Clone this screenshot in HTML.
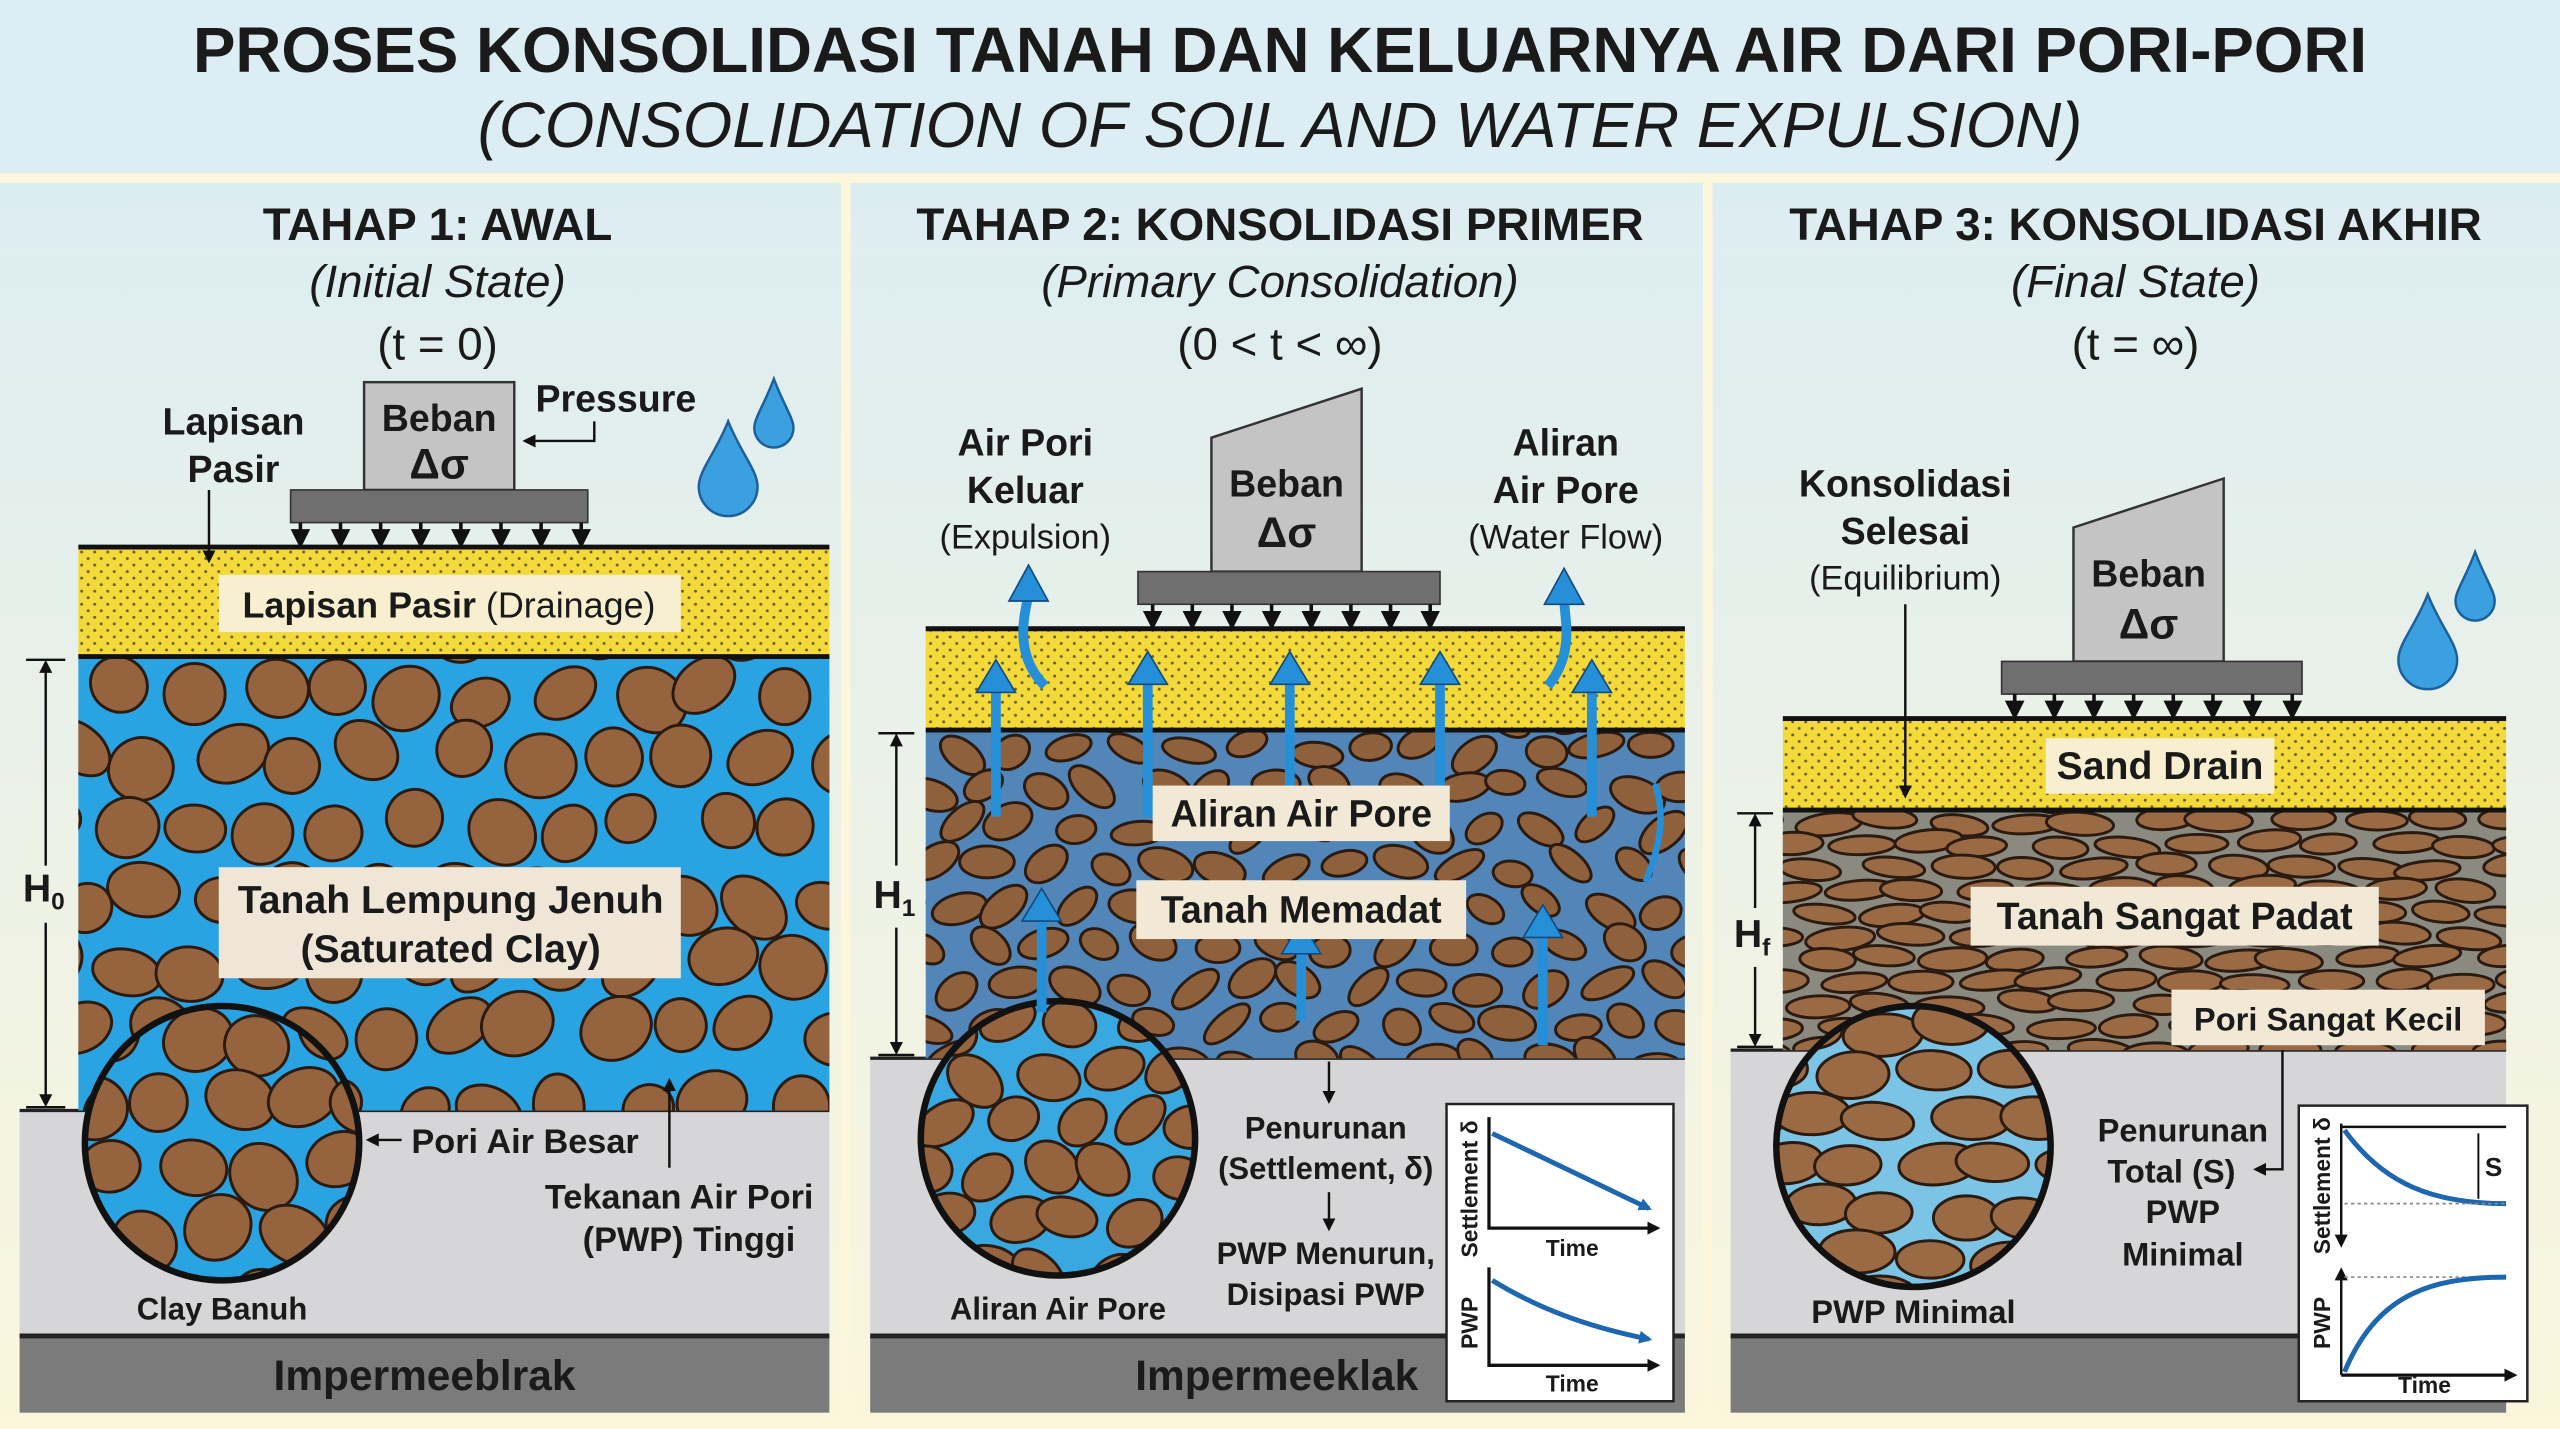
<!DOCTYPE html>
<html><head><meta charset="utf-8"><style>
html,body{margin:0;padding:0;background:#fff}
svg{display:block}
text{font-family:"Liberation Sans",sans-serif;font-weight:bold;fill:#1a1a1a}
.n{font-weight:normal}
</style></head><body>
<svg id="s" width="2560" height="1429" viewBox="0 0 1568 875" preserveAspectRatio="none" xmlns="http://www.w3.org/2000/svg">
<defs>
<linearGradient id="bg" x1="0" y1="0" x2="0" y2="1"><stop offset="0" stop-color="#dcedf2"/><stop offset="1" stop-color="#fbf6dc"/></linearGradient>
<pattern id="dots" width="8" height="8" patternUnits="userSpaceOnUse"><rect width="8" height="8" fill="#f3d93a"/><circle cx="2" cy="2" r="0.9" fill="#6a5a20"/><circle cx="6" cy="6" r="0.9" fill="#6a5a20"/></pattern>
<clipPath id="c1"><rect x="48" y="402" width="460" height="278"/></clipPath>
<clipPath id="c2"><rect x="567" y="447" width="465" height="201"/></clipPath>
<clipPath id="c3"><rect x="1092" y="496" width="443" height="147"/></clipPath>
<clipPath id="k1"><circle cx="136" cy="700" r="84"/></clipPath>
<clipPath id="k2"><circle cx="648" cy="697" r="84"/></clipPath>
<clipPath id="k3"><ellipse cx="1172" cy="702" rx="84" ry="86"/></clipPath>
<marker id="ah" markerWidth="8" markerHeight="8" refX="6" refY="4" orient="auto" markerUnits="userSpaceOnUse"><path d="M0,0 L8,4 L0,8z" fill="#111"/></marker>
<marker id="ahb" markerWidth="12" markerHeight="12" refX="10" refY="6" orient="auto" markerUnits="userSpaceOnUse"><path d="M0,0 L12,6 L0,12z" fill="#111"/></marker>
<marker id="ab" markerWidth="8" markerHeight="8" refX="6" refY="4" orient="auto" markerUnits="userSpaceOnUse"><path d="M0,0 L8,4 L0,8z" fill="#1d66b0"/></marker>
</defs>
<rect width="1568" height="875" fill="#fbf6dc"/>
<rect width="1568" height="106" fill="#dcedf3"/>
<rect x="0" y="112" width="515" height="763" fill="url(#bg)"/>
<rect x="521" y="112" width="522" height="763" fill="url(#bg)"/>
<rect x="1049" y="112" width="519" height="763" fill="url(#bg)"/>
<text x="784" y="44" font-size="39" text-anchor="middle">PROSES KONSOLIDASI TANAH DAN KELUARNYA AIR DARI PORI-PORI</text>
<text x="784" y="90" font-size="39" text-anchor="middle" class="n" font-style="italic">(CONSOLIDATION OF SOIL AND WATER EXPULSION)</text>

<g font-size="28" text-anchor="middle">
<text x="268" y="147">TAHAP 1: AWAL</text>
<text x="784" y="147">TAHAP 2: KONSOLIDASI PRIMER</text>
<text x="1308" y="147">TAHAP 3: KONSOLIDASI AKHIR</text>
</g>
<g font-size="28" text-anchor="middle" font-style="italic">
<text x="268" y="182" class="n">(Initial State)</text>
<text x="784" y="182" class="n">(Primary Consolidation)</text>
<text x="1308" y="182" class="n">(Final State)</text>
</g>
<g font-size="28" text-anchor="middle">
<text x="268" y="220" class="n">(t = 0)</text>
<text x="784" y="220" class="n">(0 &lt; t &lt; ∞)</text>
<text x="1308" y="220" class="n">(t = ∞)</text>
</g>

<!-- PANEL 1 -->
<rect x="12" y="680" width="496" height="138" fill="#d6d6d8"/>
<rect x="12" y="818" width="496" height="47" fill="#7b7b7b"/>
<line x1="12" y1="818" x2="508" y2="818" stroke="#222" stroke-width="3"/>
<line x1="12" y1="680" x2="508" y2="680" stroke="#222" stroke-width="2"/>
<rect x="48" y="335" width="460" height="67" fill="url(#dots)"/>
<line x1="48" y1="335" x2="508" y2="335" stroke="#111" stroke-width="3"/>
<rect x="48" y="402" width="460" height="278" fill="#2aa3e3"/>
<g id="g1" clip-path="url(#c1)"></g>
<line x1="48" y1="402" x2="508" y2="402" stroke="#111" stroke-width="3"/>
<circle cx="136" cy="700" r="84" fill="#2aa3e3"/>
<g id="gk1" clip-path="url(#k1)"></g>
<circle cx="136" cy="700" r="84" fill="none" stroke="#111" stroke-width="4"/>
<rect x="134" y="352" width="283" height="35" fill="#f8efd0"/>
<text x="275" y="378" font-size="22" text-anchor="middle">Lapisan Pasir <tspan class="n">(Drainage)</tspan></text>
<rect x="134" y="531" width="283" height="68" fill="#efe6d8"/>
<text x="276" y="559" font-size="24" text-anchor="middle">Tanah Lempung Jenuh</text>
<text x="276" y="589" font-size="24" text-anchor="middle">(Saturated Clay)</text>
<rect x="223" y="234" width="92" height="66" fill="#c4c4c4" stroke="#333" stroke-width="1.5"/>
<text x="269" y="264" font-size="23" text-anchor="middle">Beban</text>
<text x="269" y="293" font-size="26" text-anchor="middle">Δσ</text>
<rect x="178" y="300" width="182" height="20" fill="#6f6f6f" stroke="#333"/>
<g id="ar1"></g>
<text x="143" y="266" font-size="23" text-anchor="middle">Lapisan</text>
<text x="143" y="295" font-size="23" text-anchor="middle">Pasir</text>
<line x1="128" y1="300" x2="128" y2="343" stroke="#111" stroke-width="1.5" marker-end="url(#ah)"/>
<text x="328" y="252" font-size="23">Pressure</text>
<polyline points="364,258 364,270 322,270" fill="none" stroke="#111" stroke-width="1.5" marker-end="url(#ah)"/>
<path d="M474,232 C468,248 462,256 462,262 A12,12 0 0 0 486,262 C486,256 480,248 474,232z" fill="#3aa0e0" stroke="#1d5f9a" stroke-width="1.5"/>
<path d="M446,258 C438,278 428,288 428,298 A18,18 0 0 0 464,298 C464,288 454,278 446,258z" fill="#3aa0e0" stroke="#1d5f9a" stroke-width="1.5"/>
<line x1="16" y1="404" x2="40" y2="404" stroke="#111" stroke-width="1.5"/>
<line x1="16" y1="678" x2="40" y2="678" stroke="#111" stroke-width="1.5"/>
<line x1="28" y1="530" x2="28" y2="406" stroke="#111" stroke-width="1.5" marker-end="url(#ah)"/>
<line x1="28" y1="565" x2="28" y2="676" stroke="#111" stroke-width="1.5" marker-end="url(#ah)"/>
<text x="14" y="552" font-size="24">H<tspan font-size="15" dy="5">0</tspan></text>
<line x1="246" y1="698" x2="226" y2="698" stroke="#111" stroke-width="1.5" marker-end="url(#ah)"/>
<text x="252" y="706" font-size="21">Pori Air Besar</text>
<line x1="410" y1="715" x2="410" y2="662" stroke="#111" stroke-width="1.5" marker-end="url(#ah)"/>
<text x="416" y="740" font-size="21" text-anchor="middle">Tekanan Air Pori</text>
<text x="422" y="766" font-size="21" text-anchor="middle">(PWP) Tinggi</text>
<text x="136" y="808" font-size="19" text-anchor="middle">Clay Banuh</text>
<text x="260" y="851" font-size="26" text-anchor="middle">Impermeeblrak</text>

<!-- PANEL 2 -->
<rect x="533" y="648" width="499" height="170" fill="#d6d6d8"/>
<rect x="533" y="818" width="499" height="47" fill="#7b7b7b"/>
<line x1="533" y1="818" x2="1032" y2="818" stroke="#222" stroke-width="3"/>
<line x1="533" y1="648" x2="1032" y2="648" stroke="#222" stroke-width="2"/>
<rect x="567" y="385" width="465" height="62" fill="url(#dots)"/>
<line x1="567" y1="385" x2="1032" y2="385" stroke="#111" stroke-width="3"/>
<rect x="567" y="447" width="465" height="201" fill="#5286b8"/>
<g id="g2" clip-path="url(#c2)"></g>
<line x1="567" y1="447" x2="1032" y2="447" stroke="#111" stroke-width="3"/>
<circle cx="648" cy="697" r="84" fill="#3aa8e0"/>
<g id="gk2" clip-path="url(#k2)"></g>
<circle cx="648" cy="697" r="84" fill="none" stroke="#111" stroke-width="4"/>
<g id="bl2"></g>
<rect x="706" y="481" width="182" height="34" fill="#f1e8d6"/>
<text x="797" y="506" font-size="23" text-anchor="middle">Aliran Air Pore</text>
<rect x="696" y="539" width="202" height="36" fill="#f1e8d6"/>
<text x="797" y="565" font-size="23" text-anchor="middle">Tanah Memadat</text>
<path d="M742,268 L834,238 L834,350 L742,350z" fill="#c4c4c4" stroke="#333" stroke-width="1.5"/>
<text x="788" y="304" font-size="23" text-anchor="middle">Beban</text>
<text x="788" y="335" font-size="26" text-anchor="middle">Δσ</text>
<rect x="697" y="350" width="185" height="20" fill="#6f6f6f" stroke="#333"/>
<g id="ar2"></g>
<text x="628" y="279" font-size="23" text-anchor="middle">Air Pori</text>
<text x="628" y="308" font-size="23" text-anchor="middle">Keluar</text>
<text x="628" y="336" font-size="21" text-anchor="middle" class="n">(Expulsion)</text>
<text x="959" y="279" font-size="23" text-anchor="middle">Aliran</text>
<text x="959" y="308" font-size="23" text-anchor="middle">Air Pore</text>
<text x="959" y="336" font-size="21" text-anchor="middle" class="n">(Water Flow)</text>
<line x1="538" y1="449" x2="560" y2="449" stroke="#111" stroke-width="1.5"/>
<line x1="538" y1="646" x2="560" y2="646" stroke="#111" stroke-width="1.5"/>
<line x1="549" y1="530" x2="549" y2="451" stroke="#111" stroke-width="1.5" marker-end="url(#ah)"/>
<line x1="549" y1="568" x2="549" y2="644" stroke="#111" stroke-width="1.5" marker-end="url(#ah)"/>
<text x="535" y="556" font-size="24">H<tspan font-size="15" dy="5">1</tspan></text>
<line x1="814" y1="650" x2="814" y2="674" stroke="#111" stroke-width="1.5" marker-end="url(#ah)"/>
<text x="812" y="697" font-size="19" text-anchor="middle">Penurunan</text>
<text x="812" y="722" font-size="19" text-anchor="middle">(Settlement, δ)</text>
<line x1="814" y1="730" x2="814" y2="752" stroke="#111" stroke-width="1.5" marker-end="url(#ah)"/>
<text x="812" y="774" font-size="19" text-anchor="middle">PWP Menurun,</text>
<text x="812" y="799" font-size="19" text-anchor="middle">Disipasi PWP</text>
<text x="648" y="808" font-size="19" text-anchor="middle">Aliran Air Pore</text>
<text x="782" y="851" font-size="26" text-anchor="middle">Impermeeklak</text>
<rect x="886" y="676" width="139" height="182" fill="#fff" stroke="#222" stroke-width="1.5"/>
<polyline points="912,684 912,752 1015,752" fill="none" stroke="#111" stroke-width="2" marker-end="url(#ah)"/>
<path d="M914,694 L1010,740" stroke="#1d66b0" stroke-width="3" fill="none" marker-end="url(#ab)"/>
<text x="963" y="769" font-size="14" text-anchor="middle">Time</text>
<text transform="translate(905,770) rotate(-90)" font-size="14">Settlement δ</text>
<polyline points="912,776 912,836 1015,836" fill="none" stroke="#111" stroke-width="2" marker-end="url(#ah)"/>
<path d="M914,784 C940,800 970,812 1010,820" stroke="#1d66b0" stroke-width="3" fill="none" marker-end="url(#ab)"/>
<text x="963" y="852" font-size="14" text-anchor="middle">Time</text>
<text transform="translate(905,826) rotate(-90)" font-size="14">PWP</text>

<!-- PANEL 3 -->
<rect x="1060" y="643" width="475" height="175" fill="#d6d6d8"/>
<rect x="1060" y="818" width="475" height="47" fill="#7b7b7b"/>
<line x1="1060" y1="818" x2="1535" y2="818" stroke="#222" stroke-width="3"/>
<line x1="1060" y1="643" x2="1535" y2="643" stroke="#222" stroke-width="2"/>
<rect x="1092" y="440" width="443" height="56" fill="url(#dots)"/>
<line x1="1092" y1="440" x2="1535" y2="440" stroke="#111" stroke-width="3"/>
<rect x="1092" y="496" width="443" height="147" fill="#8a8a80"/>
<g id="g3" clip-path="url(#c3)"></g>
<line x1="1092" y1="496" x2="1535" y2="496" stroke="#111" stroke-width="3"/>
<ellipse cx="1172" cy="702" rx="84" ry="86" fill="#7cc4e6"/>
<g id="gk3" clip-path="url(#k3)"></g>
<ellipse cx="1172" cy="702" rx="84" ry="86" fill="none" stroke="#111" stroke-width="4"/>
<rect x="1253" y="452" width="140" height="34" fill="#f8efd0"/>
<text x="1323" y="477" font-size="24" text-anchor="middle">Sand Drain</text>
<rect x="1207" y="543" width="250" height="36" fill="#f1e8d6"/>
<text x="1332" y="569" font-size="23" text-anchor="middle">Tanah Sangat Padat</text>
<rect x="1330" y="606" width="192" height="34" fill="#f1e8d6"/>
<text x="1426" y="631" font-size="20" text-anchor="middle">Pori Sangat Kecil</text>
<path d="M1270,323 L1362,293 L1362,405 L1270,405z" fill="#c4c4c4" stroke="#333" stroke-width="1.5"/>
<text x="1316" y="359" font-size="23" text-anchor="middle">Beban</text>
<text x="1316" y="391" font-size="26" text-anchor="middle">Δσ</text>
<rect x="1226" y="405" width="184" height="20" fill="#6f6f6f" stroke="#333"/>
<g id="ar3"></g>
<text x="1167" y="304" font-size="23" text-anchor="middle">Konsolidasi</text>
<text x="1167" y="333" font-size="23" text-anchor="middle">Selesai</text>
<text x="1167" y="361" font-size="21" text-anchor="middle" class="n">(Equilibrium)</text>
<line x1="1167" y1="370" x2="1167" y2="487" stroke="#111" stroke-width="1.5" marker-end="url(#ah)"/>
<path d="M1516,338 C1510,354 1504,362 1504,368 A12,12 0 0 0 1528,368 C1528,362 1522,354 1516,338z" fill="#3aa0e0" stroke="#1d5f9a" stroke-width="1.5"/>
<path d="M1487,364 C1479,384 1469,394 1469,404 A18,18 0 0 0 1505,404 C1505,394 1495,384 1487,364z" fill="#3aa0e0" stroke="#1d5f9a" stroke-width="1.5"/>
<line x1="1064" y1="498" x2="1086" y2="498" stroke="#111" stroke-width="1.5"/>
<line x1="1064" y1="641" x2="1086" y2="641" stroke="#111" stroke-width="1.5"/>
<line x1="1075" y1="556" x2="1075" y2="500" stroke="#111" stroke-width="1.5" marker-end="url(#ah)"/>
<line x1="1075" y1="592" x2="1075" y2="639" stroke="#111" stroke-width="1.5" marker-end="url(#ah)"/>
<text x="1062" y="580" font-size="24">H<tspan font-size="15" dy="5">f</tspan></text>
<polyline points="1398,643 1398,716 1382,716" fill="none" stroke="#111" stroke-width="1.5" marker-end="url(#ah)"/>
<text x="1337" y="699" font-size="20" text-anchor="middle">Penurunan</text>
<text x="1330" y="724" font-size="20" text-anchor="middle">Total (S)</text>
<text x="1337" y="749" font-size="20" text-anchor="middle">PWP</text>
<text x="1337" y="775" font-size="20" text-anchor="middle">Minimal</text>
<text x="1172" y="810" font-size="20" text-anchor="middle">PWP Minimal</text>
<rect x="1408" y="677" width="140" height="181" fill="#fff" stroke="#222" stroke-width="1.5"/>
<line x1="1434" y1="690" x2="1535" y2="690" stroke="#111" stroke-width="1.5"/>
<line x1="1434" y1="688" x2="1434" y2="762" stroke="#111" stroke-width="1.5" marker-end="url(#ah)"/>
<path d="M1436,692 C1460,725 1490,737 1535,737" stroke="#1d66b0" stroke-width="3" fill="none"/>
<line x1="1436" y1="737" x2="1535" y2="737" stroke="#888" stroke-dasharray="2,2"/>
<line x1="1518" y1="694" x2="1518" y2="734" stroke="#111" stroke-width="1.2"/>
<text x="1522" y="720" font-size="16">S</text>
<text transform="translate(1427,768) rotate(-90)" font-size="14">Settlement δ</text>
<line x1="1434" y1="842" x2="1434" y2="778" stroke="#111" stroke-width="1.5" marker-end="url(#ah)"/>
<line x1="1434" y1="842" x2="1540" y2="842" stroke="#111" stroke-width="2" marker-end="url(#ah)"/>
<line x1="1436" y1="782" x2="1535" y2="782" stroke="#888" stroke-dasharray="2,2"/>
<path d="M1436,840 C1455,795 1485,782 1535,782" stroke="#1d66b0" stroke-width="3" fill="none"/>
<text transform="translate(1427,826) rotate(-90)" font-size="14">PWP</text>
<text x="1485" y="853" font-size="14" text-anchor="middle">Time</text>
</svg>
<script>
(function(){
var NS="http://www.w3.org/2000/svg";
var seed=7;function r(){seed=(seed*16807)%2147483647;return seed/2147483647;}
function el(p,t,a){var e=document.createElementNS(NS,t);for(var k in a)e.setAttribute(k,a[k]);document.getElementById(p).appendChild(e);return e;}
function grains(id,x0,y0,w,h,sx,sy,rx,ry,flat,col,mn){
 var row=0;
 for(var y=y0-sy/2;y<y0+h+sy;y+=sy){row++;for(var x=x0-sx/2+(row%2)*sx/2;x<x0+w+sx;x+=sx){
  var a=rx*(mn+r()*(1-mn)*1.1),b=ry*(mn+r()*(1-mn)*1.1);
  var cx=x+(r()-.5)*sx*0.35,cy=y+(r()-.5)*sy*0.35;
  el(id,"ellipse",{cx:cx,cy:cy,rx:a,ry:b,transform:"rotate("+((r()-.5)*(flat?14:90))+" "+cx+" "+cy+")",fill:col,stroke:"#2a1a10","stroke-width":1.8});
 }}
}
grains("g1",48,402,460,278,46,42,22,19,false,"#95643e",0.7);
grains("gk1",52,616,168,170,44,40,22,19,false,"#95643e",0.75);
grains("g2",567,447,465,201,36,24,17,10,false,"#8f603c",0.7);
grains("gk2",564,613,168,170,38,30,19,14,false,"#95643e",0.75);
grains("g3",1092,496,443,147,42,14,21,7,true,"#9a6a45",0.8);
grains("gk3",1088,616,168,172,46,28,25,14,true,"#9a6a45",0.8);
function downs(id,x1,x2,y1,y2,n){for(var i=0;i<n;i++){var x=x1+(x2-x1)*i/(n-1);el(id,"line",{x1:x,y1:y1,x2:x,y2:y2-1,stroke:"#111","stroke-width":2.2,"marker-end":"url(#ahb)"});}}
downs("ar1",184,356,320,335,8);downs("ar2",706,876,370,385,8);downs("ar3",1234,1404,425,440,8);
var ups=[[610,500,420],[703,500,415],[790,485,415],[882,500,415],[975,500,420],[638,620,560],[797,625,580],[945,640,570]];
ups.forEach(function(u){el("bl2","line",{x1:u[0],y1:u[1],x2:u[0],y2:u[2],stroke:"#2590d8","stroke-width":6});el("bl2","path",{d:"M"+(u[0]-12)+","+(u[2]+4)+" L"+u[0]+","+(u[2]-16)+" L"+(u[0]+12)+","+(u[2]+4)+"z",fill:"#2590d8",stroke:"#114a80"});});
el("bl2","path",{d:"M640,420 C620,400 628,375 630,364",stroke:"#2590d8","stroke-width":6,fill:"none"});
el("bl2","path",{d:"M618,368 L630,346 L642,368z",fill:"#2590d8",stroke:"#114a80"});
el("bl2","path",{d:"M948,420 C965,400 958,378 958,366",stroke:"#2590d8","stroke-width":6,fill:"none"});
el("bl2","path",{d:"M946,370 L958,348 L970,370z",fill:"#2590d8",stroke:"#114a80"});
el("bl2","path",{d:"M1008,540 C1020,510 1018,495 1014,480",stroke:"#2590d8","stroke-width":4,fill:"none"});
})();
</script>
</body></html>
